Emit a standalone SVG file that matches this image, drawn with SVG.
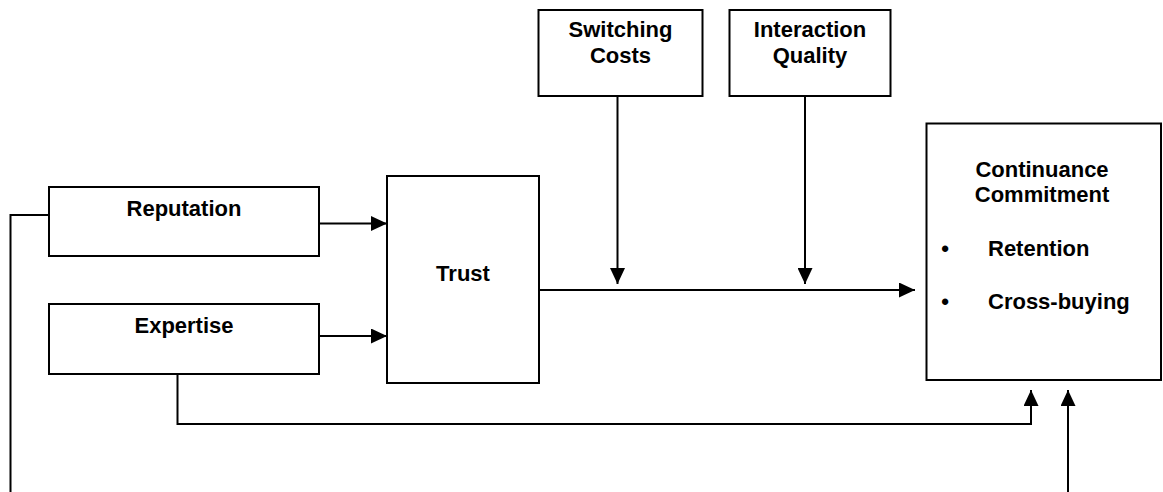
<svg xmlns="http://www.w3.org/2000/svg" width="1163" height="492" viewBox="0 0 1163 492">
<style>
.box{fill:#fff;stroke:#000;stroke-width:2}
.lbl{font-family:"Liberation Sans",Arial,sans-serif;font-weight:bold;font-size:22px;fill:#000}
.c{text-anchor:middle}
.ln{fill:none;stroke:#000;stroke-width:2}
</style>
<defs>
<marker id="ah" markerUnits="userSpaceOnUse" markerWidth="16" markerHeight="15" refX="16" refY="7.5" orient="auto">
<path d="M0,0 L16,7.5 L0,15 z" fill="#000"/>
</marker>
</defs>
<rect width="1163" height="492" fill="#fff"/>
<g id="connectors">
<path class="ln" d="M319,223.5 H387" marker-end="url(#ah)"/>
<path class="ln" d="M319,336 H387" marker-end="url(#ah)"/>
<path class="ln" d="M539,290 H915" marker-end="url(#ah)"/>
<path class="ln" d="M617.5,96 V284" marker-end="url(#ah)"/>
<path class="ln" d="M805,96 V284" marker-end="url(#ah)"/>
<path class="ln" d="M177.5,374 V424 H1031 V390" marker-end="url(#ah)"/>
<path class="ln" d="M49,215 H10.5 V492"/>
<path class="ln" d="M1068,492 V390" marker-end="url(#ah)"/>
</g>
<g id="reputation">
<rect class="box" x="49" y="187" width="270" height="69"/>
<text class="lbl c" x="184" y="216">Reputation</text>
</g>
<g id="expertise">
<rect class="box" x="49" y="304" width="270" height="70"/>
<text class="lbl c" x="184" y="333">Expertise</text>
</g>
<g id="trust">
<rect class="box" x="387" y="176" width="152" height="207"/>
<text class="lbl c" x="463" y="281">Trust</text>
</g>
<g id="switching-costs">
<rect class="box" x="538.5" y="10" width="164" height="86"/>
<text class="lbl c" x="620.5" y="37">Switching</text>
<text class="lbl c" x="620.5" y="63">Costs</text>
</g>
<g id="interaction-quality">
<rect class="box" x="729.5" y="10" width="161" height="86"/>
<text class="lbl c" x="810" y="37">Interaction</text>
<text class="lbl c" x="810" y="63">Quality</text>
</g>
<g id="continuance-commitment">
<rect class="box" x="926.5" y="123.5" width="234.5" height="256.5"/>
<text class="lbl c" x="1042" y="177">Continuance</text>
<text class="lbl c" x="1042" y="202">Commitment</text>
<text class="lbl c" x="945" y="256">•</text>
<text class="lbl" x="988" y="256">Retention</text>
<text class="lbl c" x="945" y="309">•</text>
<text class="lbl" x="988" y="309">Cross-buying</text>
</g>
</svg>
